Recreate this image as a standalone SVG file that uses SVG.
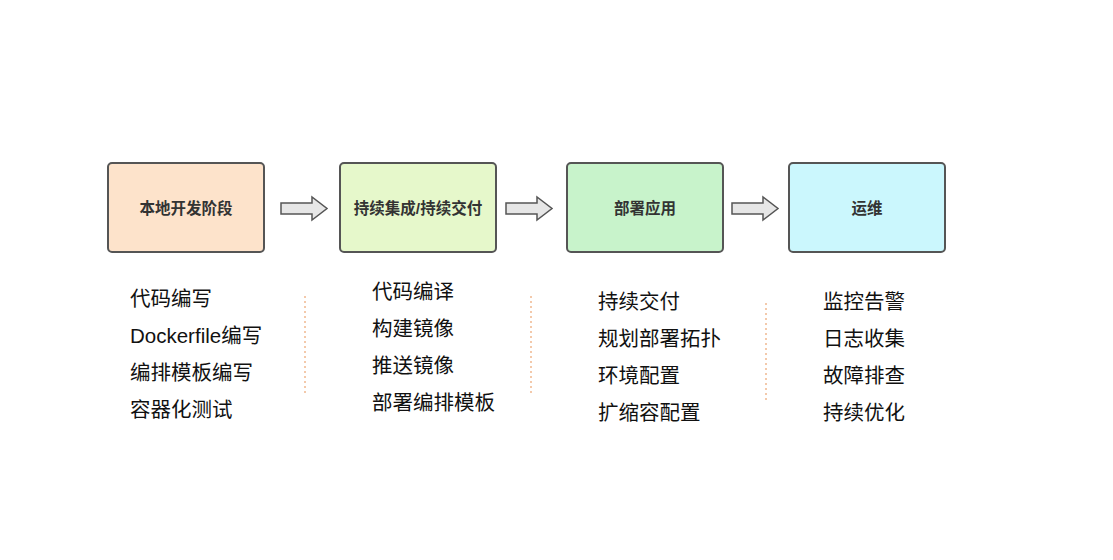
<svg xmlns="http://www.w3.org/2000/svg" width="1113" height="560" viewBox="0 0 1113 560">
<style>
.box{stroke:#555;stroke-width:2}
.bt{font-family:"Liberation Sans","Noto Sans CJK SC",sans-serif;font-size:15.5px;font-weight:bold;fill:#333;text-anchor:middle}
.it{font-family:"Liberation Sans","Noto Sans CJK SC",sans-serif;font-size:20.5px;fill:#111}
.arr{fill:#e6e6e6;stroke:#555;stroke-width:1.5;stroke-linejoin:miter}
.div{stroke:#f0b890;stroke-width:1.5;stroke-dasharray:2 3;fill:none}
</style>
<rect width="1113" height="560" fill="#fff"/>
<g id="n1"><rect class="box" x="108" y="163" width="156" height="89" rx="4" fill="#fde3cb"/><text class="bt" x="186" y="214">本地开发阶段</text></g>
<g id="n2"><rect class="box" x="340" y="163" width="156" height="89" rx="4" fill="#e6f8cb"/><text class="bt" x="418" y="214">持续集成/持续交付</text></g>
<g id="n3"><rect class="box" x="567" y="163" width="156" height="89" rx="4" fill="#c8f3cb"/><text class="bt" x="645" y="214">部署应用</text></g>
<g id="n4"><rect class="box" x="789" y="163" width="156" height="89" rx="4" fill="#cbf7fd"/><text class="bt" x="867" y="214">运维</text></g>
<g id="connectors">
<path class="arr" d="M281 203 H312 V197 L327 208.5 L312 220 V214 H281 Z"/>
<path class="arr" d="M506 203 H537 V197 L552 208.5 L537 220 V214 H506 Z"/>
<path class="arr" d="M732 203 H763 V197 L778 208.5 L763 220 V214 H732 Z"/>
</g>
<g id="dividers">
<line class="div" x1="305" y1="296" x2="305" y2="395"/>
<line class="div" x1="531" y1="296" x2="531" y2="395"/>
<line class="div" x1="766" y1="303" x2="766" y2="402"/>
</g>
<g id="list1">
<text class="it" x="130" y="306">代码编写</text>
<text class="it" x="130" y="343">Dockerfile编写</text>
<text class="it" x="130" y="380">编排模板编写</text>
<text class="it" x="130" y="417">容器化测试</text>
</g>
<g id="list2">
<text class="it" x="372" y="299">代码编译</text>
<text class="it" x="372" y="336">构建镜像</text>
<text class="it" x="372" y="373">推送镜像</text>
<text class="it" x="372" y="410">部署编排模板</text>
</g>
<g id="list3">
<text class="it" x="598" y="309">持续交付</text>
<text class="it" x="598" y="346">规划部署拓扑</text>
<text class="it" x="598" y="383">环境配置</text>
<text class="it" x="598" y="420">扩缩容配置</text>
</g>
<g id="list4">
<text class="it" x="823" y="309">监控告警</text>
<text class="it" x="823" y="346">日志收集</text>
<text class="it" x="823" y="383">故障排查</text>
<text class="it" x="823" y="420">持续优化</text>
</g>
</svg>
